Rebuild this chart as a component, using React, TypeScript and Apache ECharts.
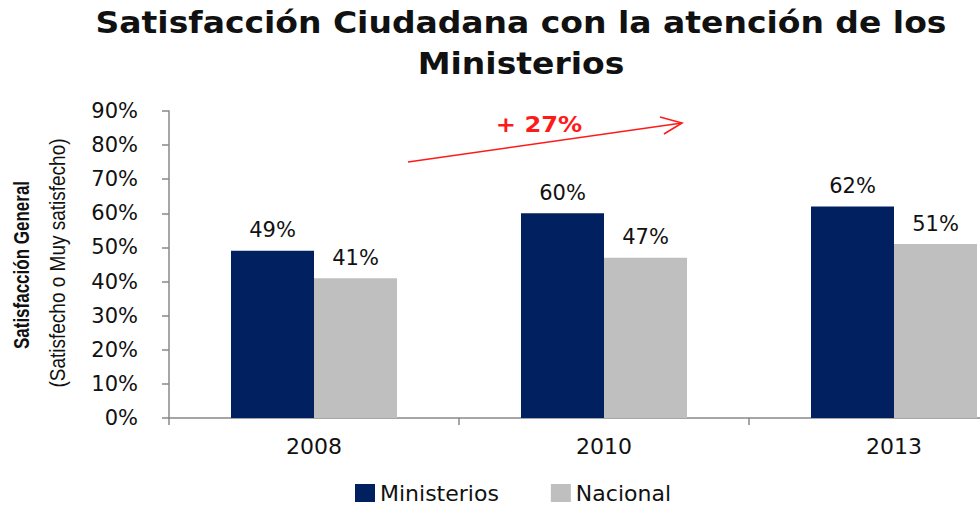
import React, { useEffect, useRef } from "react";
import * as echarts from "echarts";

const categories = ["2008", "2010", "2013"];
const ministerios = [49, 60, 62];
const nacional = [41, 47, 51];
const yTicks = [0, 10, 20, 30, 40, 50, 60, 70, 80, 90];

export default function App() {
  const ref = useRef<HTMLDivElement>(null);
  useEffect(() => {
    const chart = echarts.init(ref.current!, null, { renderer: "svg" });
    const font = "DejaVu Sans, Verdana, sans-serif";
    const narrow = "Liberation Sans Narrow, Arial Narrow, sans-serif";
    const labelStyle = {
      show: true,
      position: "top",
      distance: 10,
      formatter: "{c}%",
      fontFamily: font,
      fontSize: 21,
      color: "#111",
    };
    chart.setOption({
      animation: false,
      backgroundColor: "#ffffff",
      legend: {
        top: 482,
        left: 355,
        padding: 0,
        itemWidth: 20,
        itemHeight: 18,
        itemGap: 52,
        icon: "rect",
        textStyle: { fontFamily: font, fontSize: 22, lineHeight: 22, color: "#111" },
        data: ["Ministerios", "Nacional"],
      },
      grid: { left: 169, top: 111, bottom: 89, width: 870, containLabel: false },
      xAxis: {
        type: "category",
        data: categories,
        axisLine: { lineStyle: { color: "#888", width: 1.5 } },
        axisTick: { show: true, length: 7, lineStyle: { color: "#888", width: 1.5 } },
        axisLabel: { fontFamily: font, fontSize: 22, color: "#111", margin: 17 },
      },
      yAxis: {
        type: "value",
        min: 0,
        max: 90,
        interval: 10,
        splitLine: { show: false },
        axisLine: { show: true, lineStyle: { color: "#888", width: 1.5 } },
        axisTick: { show: true, length: 7, lineStyle: { color: "#888", width: 1.5 } },
        axisLabel: {
          fontFamily: font,
          fontSize: 21,
          color: "#111",
          margin: 31,
          formatter: (v: number) => (yTicks.includes(v) ? v + "%" : ""),
        },
      },
      series: [
        {
          name: "Ministerios",
          type: "bar",
          data: ministerios,
          barWidth: 83,
          barGap: "0%",
          itemStyle: { color: "#002060" },
          label: labelStyle,
        },
        {
          name: "Nacional",
          type: "bar",
          data: nacional,
          barWidth: 83,
          barGap: "0%",
          itemStyle: { color: "#BFBFBF" },
          label: labelStyle,
        },
      ],
      graphic: [
        {
          type: "text",
          x: 521,
          y: 23,
          scaleX: 1.1,
          style: {
            text: "Satisfacción Ciudadana con la atención de los",
            fontFamily: font,
            fontWeight: "bold",
            fontSize: 30,
            fill: "#111",
            textAlign: "center",
            textVerticalAlign: "middle",
          },
        },
        {
          type: "text",
          x: 521,
          y: 64,
          scaleX: 1.1,
          style: {
            text: "Ministerios",
            fontFamily: font,
            fontWeight: "bold",
            fontSize: 30,
            fill: "#111",
            textAlign: "center",
            textVerticalAlign: "middle",
          },
        },
        {
          type: "text",
          x: 21,
          y: 265,
          rotation: Math.PI / 2,
          scaleY: 1.35,
          style: {
            text: "Satisfacción General",
            fontFamily: narrow,
            fontWeight: "bold",
            fontSize: 17,
            fill: "#111",
            textAlign: "center",
            textVerticalAlign: "middle",
          },
        },
        {
          type: "text",
          x: 57,
          y: 263,
          rotation: Math.PI / 2,
          scaleY: 1.2,
          style: {
            text: "(Satisfecho o Muy satisfecho)",
            fontFamily: narrow,
            fontSize: 19,
            fill: "#111",
            textAlign: "center",
            textVerticalAlign: "middle",
          },
        },
        {
          type: "line",
          shape: { x1: 408, y1: 162, x2: 682, y2: 123 },
          style: { stroke: "#ff1a1a", lineWidth: 1.6 },
        },
        {
          type: "polyline",
          shape: { points: [[660, 117], [682, 123], [664, 134]] },
          style: { stroke: "#ff1a1a", lineWidth: 1.6, fill: null },
        },
        {
          type: "text",
          x: 539,
          y: 125,
          scaleX: 1.15,
          style: {
            text: "+ 27%",
            fontFamily: font,
            fontWeight: "bold",
            fontSize: 21,
            fill: "#ff1a1a",
            textAlign: "center",
            textVerticalAlign: "middle",
          },
        },
      ],
    });
    return () => chart.dispose();
  }, []);
  return (
    <div style={{ width: 980, height: 507, position: "absolute", left: 0, top: 0, overflow: "hidden" }}>
      <div ref={ref} style={{ width: 1045, height: 507, position: "absolute", left: 0, top: 0 }} />
    </div>
  );
}
